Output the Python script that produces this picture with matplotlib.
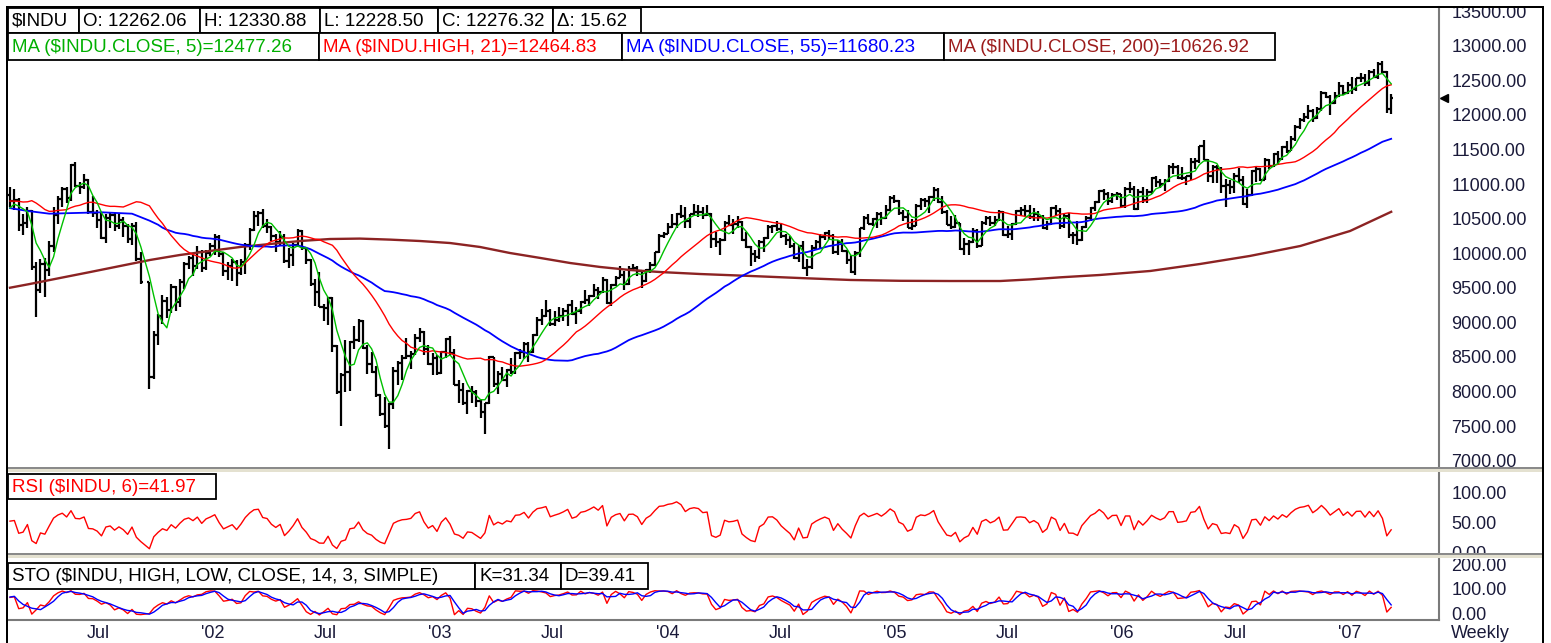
import matplotlib
matplotlib.use("Agg")
import matplotlib.pyplot as plt
import matplotlib.dates as mdates
from matplotlib.collections import LineCollection
from matplotlib.patches import Rectangle
import numpy as np
import pandas as pd

plt.rcParams['font.family'] = ['Liberation Sans', 'DejaVu Sans']

W, H = 1551, 643

# ---- weekly $INDU bars (Sep 2000 .. Mar 2007); first 20 weeks only feed the indicators ----
opens = [
    10927, 10847, 10651, 10596, 10193, 10226, 10590, 10817, 10603, 10630, 10470, 10373, 10712, 10434, 10635, 10787, 10662, 10525, 10587, 10659,
    # 2001
    10864, 10781, 10799, 10441, 10466, 10644, 9823, 9504, 9879, 9792, 10127, 10579, 10811, 10951, 10821, 11302, 11006, 10990, 11091, 10623,
    10604, 10502, 10253, 10540, 10577, 10417, 10512, 10416, 10240, 10423, 9950, 9606, 8236, 8847, 9120, 9345, 9205, 9545, 9323, 9608,
    9867, 9960, 9851, 10049, 9812, 10035,
    # 2002
    10137, 10260, 10017, 9771, 9841, 9907, 9744, 9903, 10146, 10368, 10572, 10607, 10427, 10404, 10271, 10190, 10257, 9910, 10006, 10141,
    10353, 10105, 9925, 9589, 9474, 9253, 9243, 9380, 8685, 8019, 8265, 8313, 8745, 8778, 9053, 8664, 8427, 8313, 7986, 7701,
    7529, 7850, 8322, 8444, 8518, 8537, 8579, 8805, 8896, 8645, 8433, 8512,
    # 2003
    8303, 8601, 8785, 8586, 8131, 8054, 7865, 8043, 8018, 7891, 7741, 7859, 8522, 8145, 8277, 8203, 8337, 8306, 8583, 8604,
    8718, 8601, 8850, 9063, 9117, 9200, 9012, 9070, 9119, 9188, 9284, 9153, 9191, 9321, 9349, 9415, 9503, 9471, 9644, 9313,
    9573, 9674, 9721, 9582, 9801, 9810, 9768, 9629, 9782, 9862, 10042, 10278,
    # 2004
    10305, 10409, 10458, 10600, 10568, 10488, 10593, 10628, 10620, 10584, 10596, 10240, 10186, 10213, 10470, 10442, 10452, 10473, 10226, 10118,
    10012, 9967, 10188, 10243, 10410, 10417, 10372, 10283, 10214, 10140, 9962, 10140, 9815, 9825, 10111, 10195, 10260, 10314, 10284, 10047,
    10192, 10055, 9933, 9757, 10027, 10387, 10539, 10456, 10522, 10592, 10543, 10649, 10827,
    # 2005
    10783, 10603, 10558, 10393, 10427, 10716, 10796, 10785, 10841, 10940, 10774, 10629, 10442, 10404, 10461, 10088, 10157, 10193, 10345, 10140,
    10471, 10542, 10460, 10512, 10623, 10297, 10303, 10449, 10640, 10651, 10641, 10558, 10600, 10559, 10397, 10447, 10679, 10641, 10419, 10569,
    10292, 10287, 10215, 10402, 10531, 10686, 10766, 10931, 10878, 10778, 10876, 10883,
    # 2006
    10718, 10959, 10960, 10667, 10907, 10794, 10920, 11116, 11061, 11022, 11077, 11279, 11280, 11109, 11120, 11138, 11347, 11367, 11578, 11380,
    11144, 11278, 11247, 11000, 11015, 10990, 11150, 11091, 10739, 10869, 11219, 11240, 11088, 11381, 11284, 11465, 11393, 11560, 11508, 11679,
    11850, 11961, 12002, 12090, 11986, 12108, 12342, 12280, 12194, 12307, 12445, 12343,
    # 2007
    12463, 12398, 12556, 12565, 12487, 12653, 12580, 12768, 12647, 12114,
]
highs = [
    10980, 10900, 10800, 10640, 10300, 10620, 10900, 10980, 10750, 10650, 10600, 10900, 10850, 10700, 10900, 10800, 10700, 10700, 10800, 10990,
    # 2001
    10980, 10950, 10830, 10600, 10700, 10650, 9900, 9950, 9960, 10200, 10700, 10850, 10980, 10980, 11320, 11350, 11060, 11180, 11100, 10850,
    10650, 10620, 10600, 10620, 10610, 10600, 10550, 10450, 10470, 10480, 10050, 9610, 8900, 9150, 9420, 9400, 9590, 9560, 9650, 9900,
    9990, 10000, 10140, 10080, 10070, 10170,
    # 2002
    10300, 10290, 10050, 9900, 9950, 9930, 9940, 10180, 10400, 10640, 10640, 10670, 10520, 10420, 10300, 10350, 10300, 10100, 10180, 10380,
    10360, 10120, 9940, 9650, 9760, 9300, 9400, 9400, 8700, 8300, 8780, 8760, 8980, 9080, 9060, 8700, 8600, 8400, 8000, 7950,
    7870, 8380, 8470, 8560, 8800, 8610, 8860, 8950, 8900, 8700, 8580, 8560,
    # 2003
    8620, 8800, 8830, 8650, 8200, 8150, 8050, 8110, 8050, 7920, 7870, 8550, 8530, 8330, 8390, 8360, 8520, 8600, 8640, 8750,
    8740, 8860, 9100, 9220, 9350, 9220, 9200, 9250, 9230, 9300, 9350, 9250, 9340, 9490, 9430, 9590, 9540, 9690, 9660, 9590,
    9700, 9840, 9770, 9840, 9880, 9850, 9790, 9800, 9900, 10050, 10300, 10330,
    # 2004
    10460, 10600, 10610, 10720, 10700, 10600, 10740, 10730, 10700, 10720, 10610, 10330, 10250, 10490, 10580, 10520, 10570, 10490, 10340, 10130,
    10080, 10220, 10270, 10430, 10440, 10500, 10460, 10300, 10280, 10170, 10150, 10200, 9950, 10150, 10220, 10300, 10340, 10370, 10300, 10220,
    10240, 10080, 10000, 10060, 10400, 10560, 10600, 10540, 10620, 10620, 10730, 10850, 10870,
    # 2005
    10800, 10650, 10650, 10520, 10740, 10820, 10830, 10860, 10980, 10970, 10850, 10660, 10560, 10580, 10470, 10250, 10220, 10400, 10380, 10500,
    10560, 10560, 10560, 10650, 10640, 10420, 10460, 10660, 10700, 10720, 10720, 10680, 10640, 10580, 10500, 10700, 10720, 10680, 10600, 10610,
    10330, 10490, 10420, 10560, 10700, 10790, 10940, 10950, 10910, 10900, 10920, 10890,
    # 2006
    10980, 11060, 11000, 10950, 10990, 10950, 11130, 11140, 11100, 11100, 11300, 11330, 11310, 11270, 11150, 11400, 11400, 11580, 11670, 11390,
    11300, 11300, 11270, 11100, 11080, 11190, 11260, 11140, 10950, 11230, 11290, 11260, 11400, 11390, 11480, 11500, 11580, 11650, 11720, 11880,
    11990, 12060, 12170, 12120, 12140, 12370, 12360, 12320, 12360, 12510, 12460, 12510,
    # 2007
    12580, 12560, 12630, 12620, 12670, 12690, 12790, 12800, 12660, 12331,
]
lows = [
    10680, 10600, 10500, 9980, 9650, 10050, 10540, 10550, 10450, 10350, 10250, 10350, 10400, 10300, 10600, 10300, 10400, 10450, 10550, 10620,
    # 2001
    10700, 10650, 10350, 10290, 10400, 9780, 9110, 9450, 9390, 9700, 10050, 10450, 10700, 10760, 10780, 10980, 10880, 10950, 10600, 10550,
    10400, 10240, 10170, 10400, 10350, 10380, 10270, 10180, 10150, 9910, 9580, 8062, 8210, 8700, 9000, 9090, 9170, 9200, 9250, 9510,
    9800, 9700, 9800, 9750, 9780, 9990,
    # 2002
    10000, 9980, 9700, 9640, 9620, 9560, 9720, 9730, 10070, 10350, 10420, 10400, 10320, 10200, 10050, 10150, 9890, 9810, 9840, 10120,
    10080, 9870, 9560, 9270, 9250, 9050, 8990, 8600, 7990, 7530, 8030, 8040, 8650, 8750, 8650, 8280, 8300, 7950, 7680, 7500,
    7200, 7780, 8130, 8200, 8500, 8350, 8560, 8740, 8560, 8420, 8270, 8270,
    # 2003
    8280, 8510, 8560, 8120, 7860, 7840, 7700, 7860, 7800, 7640, 7416, 7850, 8100, 7990, 8180, 8100, 8280, 8280, 8500, 8500,
    8450, 8580, 8830, 8990, 9100, 8980, 8980, 9030, 9050, 8970, 9130, 9000, 9150, 9300, 9260, 9400, 9370, 9450, 9290, 9270,
    9560, 9670, 9500, 9570, 9780, 9700, 9530, 9610, 9740, 9850, 10030, 10250,
    # 2004
    10300, 10400, 10400, 10540, 10400, 10400, 10580, 10550, 10520, 10560, 10100, 10120, 10000, 10200, 10420, 10300, 10400, 10200, 10100, 9850,
    9900, 9950, 10050, 10240, 10320, 10350, 10250, 10150, 10100, 9950, 9900, 9800, 9700, 9800, 10070, 10100, 10220, 10220, 10020, 10000,
    10040, 9880, 9740, 9710, 9980, 10370, 10450, 10420, 10400, 10440, 10530, 10640, 10760,
    # 2005
    10580, 10500, 10390, 10360, 10420, 10660, 10700, 10610, 10790, 10750, 10600, 10430, 10380, 10400, 10070, 10000, 10010, 10180, 10100, 10130,
    10440, 10420, 10420, 10500, 10280, 10250, 10220, 10440, 10560, 10570, 10530, 10500, 10500, 10380, 10370, 10440, 10560, 10380, 10400, 10250,
    10160, 10150, 10200, 10400, 10500, 10640, 10760, 10800, 10720, 10750, 10800, 10700,
    # 2006
    10680, 10900, 10650, 10660, 10760, 10750, 10880, 10990, 10970, 10930, 11060, 11180, 11100, 11090, 11010, 11080, 11250, 11330, 11370, 11060,
    11050, 11050, 10900, 10700, 10880, 10900, 11050, 10730, 10680, 10850, 11060, 11070, 11080, 11250, 11270, 11300, 11380, 11480, 11500, 11650,
    11820, 11920, 11970, 11930, 11970, 12080, 12270, 12020, 12180, 12290, 12320, 12330,
    # 2007
    12330, 12380, 12510, 12440, 12450, 12560, 12540, 12630, 12050, 12039,
]
closes = [
    10847, 10651, 10596, 10193, 10226, 10590, 10817, 10603, 10630, 10470, 10373, 10712, 10434, 10635, 10787, 10662, 10525, 10587, 10659, 10864,
    # 2001
    10781, 10799, 10441, 10466, 10644, 9823, 9504, 9879, 9792, 10127, 10579, 10811, 10951, 10821, 11302, 11006, 10990, 11091, 10623, 10604,
    10502, 10253, 10540, 10577, 10417, 10512, 10416, 10240, 10423, 9950, 9606, 8236, 8847, 9120, 9345, 9205, 9545, 9323, 9608, 9867,
    9960, 9851, 10049, 9812, 10035, 10137,
    # 2002
    10260, 10017, 9771, 9841, 9907, 9744, 9903, 10146, 10368, 10572, 10607, 10427, 10404, 10271, 10190, 10257, 9910, 10006, 10141, 10353,
    10105, 9925, 9589, 9474, 9253, 9243, 9380, 8685, 8019, 8265, 8313, 8745, 8778, 9053, 8664, 8427, 8313, 7986, 7701, 7529,
    7850, 8322, 8444, 8518, 8537, 8579, 8805, 8896, 8645, 8433, 8512, 8303,
    # 2003
    8601, 8785, 8586, 8131, 8054, 7865, 8043, 8018, 7891, 7741, 7859, 8522, 8145, 8277, 8203, 8337, 8306, 8583, 8604, 8718,
    8601, 8850, 9063, 9117, 9200, 9012, 9070, 9119, 9188, 9284, 9153, 9191, 9321, 9349, 9415, 9503, 9471, 9644, 9313, 9573,
    9674, 9721, 9582, 9801, 9810, 9768, 9629, 9782, 9862, 10042, 10278, 10305,
    # 2004
    10409, 10458, 10600, 10568, 10488, 10593, 10628, 10620, 10584, 10596, 10240, 10186, 10213, 10470, 10442, 10452, 10473, 10226, 10118, 10012,
    9967, 10188, 10243, 10410, 10417, 10372, 10283, 10214, 10140, 9962, 10140, 9815, 9825, 10111, 10195, 10260, 10314, 10284, 10047, 10192,
    10055, 9933, 9757, 10027, 10387, 10539, 10456, 10522, 10592, 10543, 10649, 10827, 10783,
    # 2005
    10603, 10558, 10393, 10427, 10716, 10796, 10785, 10841, 10940, 10774, 10629, 10442, 10404, 10461, 10088, 10157, 10193, 10345, 10140, 10471,
    10542, 10460, 10512, 10623, 10297, 10303, 10449, 10640, 10651, 10641, 10558, 10600, 10559, 10397, 10447, 10679, 10641, 10419, 10569, 10292,
    10287, 10215, 10402, 10531, 10686, 10766, 10931, 10878, 10778, 10876, 10883, 10718,
    # 2006
    10959, 10960, 10667, 10907, 10794, 10920, 11116, 11061, 11022, 11077, 11279, 11280, 11109, 11120, 11138, 11347, 11367, 11578, 11380, 11144,
    11278, 11247, 11000, 11015, 10990, 11150, 11091, 10739, 10869, 11219, 11240, 11088, 11381, 11284, 11465, 11393, 11560, 11508, 11679, 11850,
    11961, 12002, 12090, 11986, 12108, 12342, 12280, 12194, 12307, 12445, 12343, 12463,
    # 2007
    12398, 12556, 12565, 12487, 12653, 12580, 12768, 12647, 12114, 12276,
]
N_PRE = 20

# 55-week MA before enough weekly history exists here
ma55_early_dates = ['2001-02-09', '2001-03-09', '2001-04-13', '2001-05-25', '2001-07-06', '2001-08-24',
                    '2001-09-21', '2001-10-05']
ma55_early_vals = [10680, 10640, 10600, 10610, 10620, 10600, 10500, 10440]

# 200-week MA
ma200_dates = ['2001-02-09', '2001-03-13', '2001-04-30', '2001-06-18', '2001-08-05', '2001-09-22', '2001-11-09',
               '2001-12-27', '2002-02-14', '2002-04-03', '2002-05-21', '2002-07-08', '2002-08-25', '2002-10-13',
               '2002-11-30', '2003-01-17', '2003-03-06', '2003-04-23', '2003-06-11', '2003-07-29', '2003-09-15',
               '2003-11-02', '2003-12-20', '2004-02-23', '2004-05-13', '2004-08-01', '2004-10-21', '2005-01-09',
               '2005-03-30', '2005-06-19', '2005-08-06', '2005-09-23', '2005-11-26', '2006-02-15', '2006-05-06',
               '2006-07-25', '2006-10-14', '2007-01-02', '2007-03-09']
ma200_vals = [9530, 9584, 9670, 9757, 9844, 9931, 10003, 10061, 10119, 10162, 10205, 10234, 10240, 10225,
              10205, 10176, 10119, 10032, 9960, 9887, 9830, 9786, 9757, 9728, 9700, 9670, 9642, 9630,
              9627, 9627, 9650, 9680, 9714, 9772, 9873, 9989, 10133, 10350, 10627]

price_ticks = list(range(7000, 14000, 500))
rsi_ticks = [0, 50, 100]
sto_ticks = [0, 100, 200]
x_labels = ['Jul', "'02", 'Jul', "'03", 'Jul', "'04", 'Jul', "'05", 'Jul', "'06", 'Jul', "'07"]
x_label_dates = ['2001-07-01', '2002-01-01', '2002-07-01', '2003-01-01', '2003-07-01', '2004-01-01',
                 '2004-07-01', '2005-01-01', '2005-07-01', '2006-01-01', '2006-07-01', '2007-01-01']

# ---- indicators ----
o = np.array(opens, float); h = np.array(highs, float)
l = np.array(lows, float); c = np.array(closes, float)
weeks = pd.date_range('2000-09-22', '2007-03-09', freq='W-FRI')
weeks = weeks[weeks != pd.Timestamp('2001-09-14')]   # market closed that week
x = mdates.date2num(weeks.to_pydatetime())

ma5 = pd.Series(c).rolling(5).mean().values
ma21 = pd.Series(h).rolling(21).mean().values
ma55 = pd.Series(c).rolling(55).mean().values

d = np.diff(c)
up, dn = np.clip(d, 0, None), np.clip(-d, 0, None)
ag, al = up[:6].mean(), dn[:6].mean()
rsi = np.full(len(c), np.nan)
rsi[6] = 100 - 100 / (1 + ag / al)
for i in range(6, len(d)):
    ag = (ag * 5 + up[i]) / 6
    al = (al * 5 + dn[i]) / 6
    rsi[i + 1] = 100 - 100 / (1 + ag / al)

hh = pd.Series(h).rolling(14).max().values
ll = pd.Series(l).rolling(14).min().values
sto_k = 100 * (c - ll) / (hh - ll)
sto_d = pd.Series(sto_k).rolling(3).mean().values

s = slice(N_PRE, None)

# ---- layout (pixel geometry of the original screen grab) ----
fig = plt.figure(figsize=(W / 100, H / 100), dpi=100)
fig.patch.set_facecolor('white')


def axes_px(x0, y0, x1, y1):
    return fig.add_axes([x0 / W, 1 - y1 / H, (x1 - x0) / W, (y1 - y0) / H])


def rect_px(x0, y0, x1, y1, **kw):
    fig.add_artist(Rectangle((x0 / W, 1 - y1 / H), (x1 - x0) / W, (y1 - y0) / H,
                             transform=fig.transFigure, **kw))


PX_DAY = 4.357 / 7
x_left = mdates.date2num(pd.Timestamp('2001-02-09')) - 2 / PX_DAY
x_right = x_left + (1439 - 8) / PX_DAY

panels = [(7, 467, (6939, 13587)), (472, 553, (3.3, 138.3)), (559, 620, (-20.4, 228.6))]
axs, labs = [], []
for top, bot, ylim in panels:
    ax = axes_px(8, top, 1439, bot)
    ax.set_xlim(x_left, x_right)
    ax.set_ylim(*ylim)
    ax.set_xticks([]); ax.set_yticks([])
    for sp in ax.spines.values():
        sp.set_visible(False)
    ax.spines['right'].set_visible(True)
    ax.spines['right'].set_color('#7a7a7a')
    ax.spines['right'].set_linewidth(1.5)
    lab = axes_px(1439, top, 1543, bot)
    lab.set_xlim(0, 1); lab.set_ylim(*ylim)
    lab.axis('off')
    axs.append(ax); labs.append(lab)
ax_p, ax_r, ax_s = axs

# price bars
tk = 3.5
xs, os_, hs, ls, cs = x[s], o[s], h[s], l[s], c[s]
segs = []
for xi, oi, hi, li, ci in zip(xs, os_, hs, ls, cs):
    segs.append([(xi, li), (xi, hi)])
    segs.append([(xi - tk, oi), (xi, oi)])
    segs.append([(xi, ci), (xi + tk, ci)])
ax_p.add_collection(LineCollection(segs, colors='black', linewidths=1.6, zorder=2))

ax_p.plot(mdates.date2num(pd.to_datetime(ma200_dates).to_pydatetime()), ma200_vals,
          color='#8c2323', lw=1.7, zorder=3)
ok = ~np.isnan(ma55)
ma55_x = np.r_[mdates.date2num(pd.to_datetime(ma55_early_dates).to_pydatetime()), x[ok]]
ma55_y = np.r_[ma55_early_vals, ma55[ok]]
ax_p.plot(ma55_x, ma55_y, color='#0000ff', lw=1.3, zorder=3)
ax_p.plot(xs, ma21[s], color='#ff0000', lw=1.0, zorder=4)
ax_p.plot(xs, ma5[s], color='#00c000', lw=1.0, zorder=4)

ax_r.plot(xs, rsi[s], color='#ff0000', lw=1.0)
ax_s.plot(xs, sto_k[s], color='#ff0000', lw=1.0)
ax_s.plot(xs, sto_d[s], color='#0000ff', lw=1.0)
ax_s.spines['bottom'].set_visible(True)
ax_s.spines['bottom'].set_color('#7a7a7a')
ax_s.spines['bottom'].set_linewidth(1.5)

# right-hand scales, clipped to each pane like the original
lab_color = '#1a1a3a'
for lab, ticks in zip(labs, [price_ticks, rsi_ticks, sto_ticks]):
    for t in ticks:
        lab.text(0.12, t, f'{t:.2f}', fontsize=13, color=lab_color, va='center', ha='left', clip_on=True)
labs[0].plot([0.045], [closes[-1]], marker='<', color='black', ms=6, clip_on=False)

# date labels
for txt, dt in zip(x_labels, x_label_dates):
    xp = 8 + (mdates.date2num(pd.Timestamp(dt)) - x_left) * PX_DAY
    fig.text(xp / W, 1 - 634 / H, txt, fontsize=13, color=lab_color, ha='center', va='center')
fig.text(1451 / W, 1 - 634 / H, 'Weekly', fontsize=13, color=lab_color, ha='left', va='center')

# pane splitters
for y0 in (467, 553):
    rect_px(8, y0, 1543, y0 + 2, facecolor='#8a8a8a', edgecolor='none', zorder=5)
    rect_px(8, y0 + 2, 1543, y0 + 5, facecolor='#e4e1d0', edgecolor='none', zorder=5)

# outer frame
rect_px(6, 6, 8, H, facecolor='black', edgecolor='none', zorder=6)
rect_px(6, 6, 1544, 8, facecolor='black', edgecolor='none', zorder=6)
rect_px(1542, 6, 1544, H, facecolor='black', edgecolor='none', zorder=6)


def box_row(items, y0, y1, fs=13.5):
    for txt, x0, x1, col in items:
        rect_px(x0, y0, x1, y1, facecolor='white', edgecolor='black', lw=1.3, zorder=7)
        fig.text((x0 + 4) / W, 1 - ((y0 + y1) / 2 + 0.5) / H, txt, fontsize=fs, color=col,
                 ha='left', va='center', zorder=8)


box_row([('$INDU', 8, 79, 'black'), ('O: 12262.06', 79, 200, 'black'), ('H: 12330.88', 200, 320, 'black'),
         ('L: 12228.50', 320, 438, 'black'), ('C: 12276.32', 438, 553, 'black'), ('Δ: 15.62', 553, 641, 'black')],
        8, 33)
box_row([('MA ($INDU.CLOSE, 5)=12477.26', 8, 319, '#00b000'),
         ('MA ($INDU.HIGH, 21)=12464.83', 319, 622, '#ff0000'),
         ('MA ($INDU.CLOSE, 55)=11680.23', 622, 944, '#0000ff'),
         ('MA ($INDU.CLOSE, 200)=10626.92', 944, 1275, '#9c1c1c')], 33, 60)
box_row([('RSI ($INDU, 6)=41.97', 8, 216, '#ff0000')], 474, 499)
box_row([('STO ($INDU, HIGH, LOW, CLOSE, 14, 3, SIMPLE)', 8, 475, 'black'),
         ('K=31.34', 475, 561, 'black'), ('D=39.41', 561, 648, 'black')], 563, 589)

fig.savefig('out.png', dpi=100)
